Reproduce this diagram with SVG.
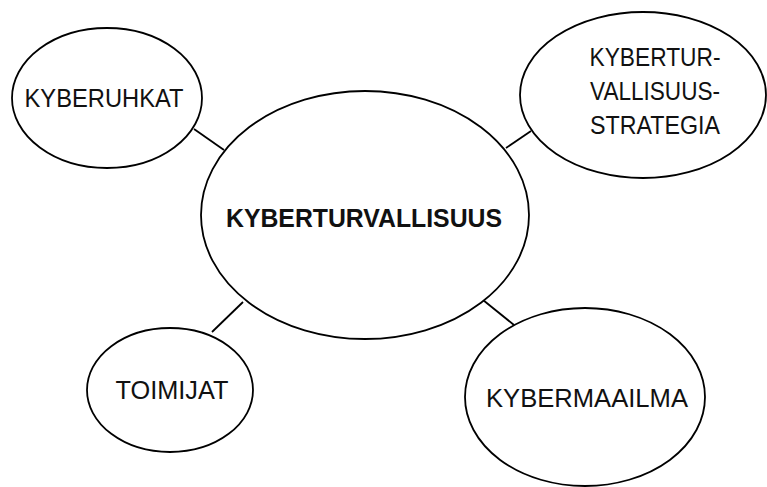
<svg xmlns="http://www.w3.org/2000/svg" width="767" height="487" viewBox="0 0 767 487">
<style>
.node ellipse{fill:#fff;stroke:#000;stroke-width:1.8}
.conn line{stroke:#000;stroke-width:1.8}
text{font-family:"Liberation Sans",Arial,sans-serif;fill:#111;text-anchor:middle}
.lbl{font-size:25px}
.main{font-size:25px;font-weight:bold}
</style>
<rect width="767" height="487" fill="#fff"/>
<g id="connectors" class="conn">
<line x1="194" y1="129" x2="224" y2="150"/>
<line x1="506" y1="148" x2="531" y2="131"/>
<line x1="243" y1="302" x2="212" y2="332"/>
<line x1="483" y1="300" x2="514" y2="325"/>
</g>
<g id="kyberturvallisuus" class="node">
<ellipse cx="365" cy="215" rx="164" ry="124"/>
<text class="main" x="364" y="227" textLength="276" lengthAdjust="spacingAndGlyphs">KYBERTURVALLISUUS</text>
</g>
<g id="kyberuhkat" class="node">
<ellipse cx="107" cy="98" rx="95" ry="70"/>
<text class="lbl" x="104" y="107" textLength="159" lengthAdjust="spacingAndGlyphs">KYBERUHKAT</text>
</g>
<g id="strategia" class="node">
<ellipse cx="643" cy="95" rx="123" ry="83"/>
<text class="lbl" x="655" y="66" textLength="131" lengthAdjust="spacingAndGlyphs">KYBERTUR-</text>
<text class="lbl" x="655" y="100" textLength="130" lengthAdjust="spacingAndGlyphs">VALLISUUS-</text>
<text class="lbl" x="655" y="134" textLength="130" lengthAdjust="spacingAndGlyphs">STRATEGIA</text>
</g>
<g id="toimijat" class="node">
<ellipse cx="170" cy="390" rx="83" ry="62"/>
<text class="lbl" x="172" y="399" textLength="113" lengthAdjust="spacingAndGlyphs">TOIMIJAT</text>
</g>
<g id="kybermaailma" class="node">
<ellipse cx="585" cy="397" rx="120" ry="89"/>
<text class="lbl" x="587" y="407" textLength="202" lengthAdjust="spacingAndGlyphs">KYBERMAAILMA</text>
</g>
</svg>
